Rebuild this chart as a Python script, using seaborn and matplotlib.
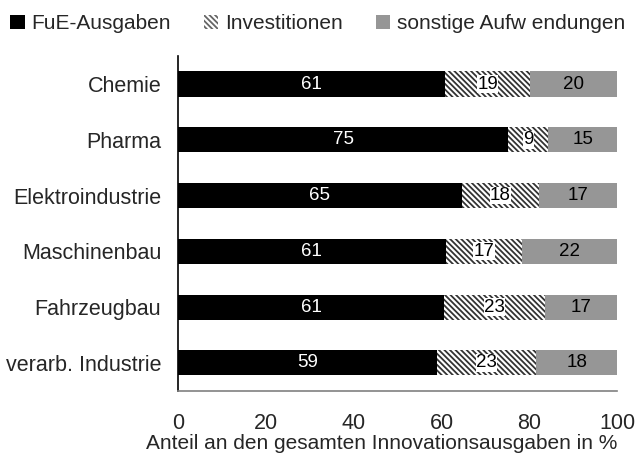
import pandas as pd
import seaborn as sns
import matplotlib.pyplot as plt
from matplotlib.patches import Patch

# Daten (Anteile in %) und die gedruckten Beschriftungen
branchen = ["Chemie", "Pharma", "Elektroindustrie", "Maschinenbau", "Fahrzeugbau", "verarb. Industrie"]
fue = [60.8, 75.2, 64.7, 61.0, 60.6, 59.0]
invest = [19.4, 9.1, 17.5, 17.4, 23.0, 22.5]
sonstige = [19.8, 15.7, 17.8, 21.6, 16.4, 18.5]
fue_lbl = [61, 75, 65, 61, 61, 59]
invest_lbl = [19, 9, 18, 17, 23, 23]
sonstige_lbl = [20, 15, 17, 22, 17, 18]

df = pd.DataFrame({"Branche": branchen, "FuE": fue, "Inv": invest, "Sonst": sonstige})
df["cum_inv"] = df["FuE"] + df["Inv"]
df["cum_total"] = df["cum_inv"] + df["Sonst"]

sns.set_style("white")
plt.rcParams["font.family"] = ["Liberation Sans", "DejaVu Sans"]
plt.rcParams["hatch.linewidth"] = 1.3

fig = plt.figure(figsize=(6.35, 4.68), dpi=100)
ax = fig.add_axes([0.280, 0.165, 0.692, 0.715])

# gestapelt durch Überlagerung der kumulierten Summen
sns.barplot(data=df, x="cum_total", y="Branche", orient="h", color="#969696",
            width=0.45, linewidth=0, ax=ax)
sns.barplot(data=df, x="cum_inv", y="Branche", orient="h", color="white",
            edgecolor="#333333", hatch="\\" * 6, linewidth=0, width=0.45, ax=ax)
sns.barplot(data=df, x="FuE", y="Branche", orient="h", color="black",
            width=0.45, linewidth=0, ax=ax)

# Beschriftungen
for i, row in df.iterrows():
    ax.text(row["FuE"] / 2, i, str(fue_lbl[i]), color="white", ha="center", va="center", fontsize=13.5)
    ax.text(row["FuE"] + row["Inv"] / 2, i, str(invest_lbl[i]), color="black", ha="center", va="center",
            fontsize=13.5, bbox=dict(facecolor="white", edgecolor="none", pad=0.3))
    ax.text(row["cum_inv"] + row["Sonst"] / 2, i, str(sonstige_lbl[i]), color="black", ha="center",
            va="center", fontsize=13.5)

ax.set_xlim(0, 100)
ax.set_ylim(5.5, -0.5)
ax.set_xticks([0, 20, 40, 60, 80, 100])
ax.set_xlabel("Anteil an den gesamten Innovationsausgaben in %", fontsize=15, labelpad=0, loc="right")
ax.set_ylabel("")
ax.tick_params(axis="x", direction="in", length=4, color="#808080", labelsize=15.5, pad=16)
ax.tick_params(axis="y", length=0, labelsize=15.5, pad=12)

sns.despine(ax=ax, top=True, right=True)
ax.spines["left"].set_color("black")
ax.spines["left"].set_linewidth(1.2)
ax.spines["bottom"].set_color("#808080")
ax.spines["bottom"].set_linewidth(1.2)

handles = [
    Patch(facecolor="black", edgecolor="black", linewidth=0, label="FuE-Ausgaben"),
    Patch(facecolor="white", edgecolor="#666666", hatch="\\" * 6, linewidth=0, label="Investitionen"),
    Patch(facecolor="#969696", linewidth=0, label="sonstige Aufw endungen"),
]
fig.legend(handles=handles, loc="center", bbox_to_anchor=(0.5, 0.949), ncol=3, frameon=False,
           fontsize=15, handlelength=0.7, handleheight=0.7, handletextpad=0.3, columnspacing=1.6)

fig.savefig("out.png", dpi=100)
